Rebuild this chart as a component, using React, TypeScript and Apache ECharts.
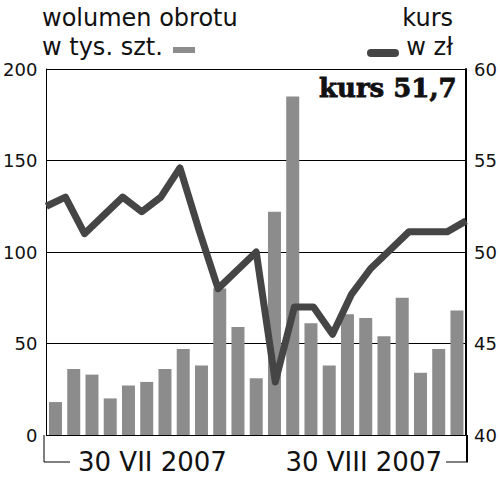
import React, { useEffect, useRef } from "react";
import * as echarts from "echarts";

const days = Array.from({ length: 23 }, (_, i) => String(i + 1));
const volume = [18, 36, 33, 20, 27, 29, 36, 47, 38, 80, 59, 31, 122, 185, 61, 38, 66, 64, 54, 75, 34, 47, 68];
const price = [52.5, 53.0, 51.0, 52.0, 53.0, 52.2, 53.0, 54.6, 51.2, 48.0, 49.0, 50.0, 42.9, 47.0, 47.0, 45.5, 47.7, 49.1, 50.1, 51.1, 51.1, 51.1, 51.7];
const rangeLabels = ["30 VII 2007", "30 VIII 2007"];
const leftTitle = ["wolumen obrotu", "w tys. szt."];
const rightTitle = ["kurs", "w zł"];
const lastPrice = "kurs 51,7";

const BAR = "#8c8c8c";
const LINE = "#454545";
const INK = "#111";

export default function App() {
  const ref = useRef<HTMLDivElement>(null);
  useEffect(() => {
    if (!ref.current) return;
    const chart = echarts.init(ref.current, null, { renderer: "svg" });
    const axisFont = { fontFamily: "DejaVu Sans", fontSize: 18, color: INK };
    const titleFont = { fontFamily: "DejaVu Sans", fontSize: 24, lineHeight: 24, fill: INK };
    chart.setOption({
      animation: false,
      backgroundColor: "#fff",
      grid: { left: 44, right: 33, top: 69, height: 366 },
      xAxis: [
        {
          type: "category",
          data: days,
          boundaryGap: true,
          axisLine: { show: true, lineStyle: { color: "#000", width: 1 } },
          axisTick: { show: false },
          axisLabel: { show: false },
        },
        {
          type: "category",
          data: days,
          boundaryGap: false,
          show: false,
        },
      ],
      yAxis: [
        {
          type: "value",
          min: 0,
          max: 200,
          interval: 50,
          position: "left",
          axisLine: { show: true, lineStyle: { color: "#000", width: 1 } },
          axisTick: { show: false },
          axisLabel: { ...axisFont, margin: 9 },
          splitLine: { show: true, lineStyle: { color: "#000", width: 1 } },
        },
        {
          type: "value",
          min: 40,
          max: 60,
          interval: 5,
          position: "right",
          axisLine: { show: true, lineStyle: { color: "#000", width: 2 } },
          axisTick: { show: false },
          axisLabel: { ...axisFont, margin: 8 },
          splitLine: { show: false },
        },
      ],
      series: [
        {
          type: "bar",
          data: volume,
          xAxisIndex: 0,
          yAxisIndex: 0,
          barWidth: 13,
          itemStyle: { color: BAR },
          z: 2,
        },
        {
          type: "line",
          data: price,
          xAxisIndex: 1,
          yAxisIndex: 1,
          symbol: "none",
          lineStyle: { color: LINE, width: 7, join: "round", cap: "butt" },
          z: 3,
        },
      ],
      graphic: [
        { type: "text", left: 42, top: 6, style: { text: leftTitle[0], ...titleFont } },
        { type: "text", left: 42, top: 35, style: { text: leftTitle[1], ...titleFont } },
        { type: "rect", shape: { x: 173, y: 47, width: 22, height: 6 }, style: { fill: BAR } },
        { type: "text", right: 47, top: 6, style: { text: rightTitle[0], ...titleFont, align: "right" } },
        { type: "text", right: 47, top: 35, style: { text: rightTitle[1], ...titleFont, align: "right" } },
        { type: "line", shape: { x1: 371, y1: 53, x2: 395, y2: 53 }, style: { stroke: LINE, lineWidth: 8, lineCap: "round" } },
        {
          type: "text",
          right: 43,
          top: 75,
          style: {
            text: lastPrice,
            fontFamily: "DejaVu Serif",
            fontWeight: "bold",
            fontSize: 26,
            fill: INK,
            stroke: INK,
            lineWidth: 0.8,
            align: "right",
          },
          z: 10,
        },
        { type: "line", shape: { x1: 44, y1: 435, x2: 44, y2: 462 }, style: { stroke: "#000", lineWidth: 1 } },
        { type: "line", shape: { x1: 44, y1: 462, x2: 70, y2: 462 }, style: { stroke: "#000", lineWidth: 1 } },
        { type: "line", shape: { x1: 467, y1: 435, x2: 467, y2: 462 }, style: { stroke: "#000", lineWidth: 2 } },
        { type: "line", shape: { x1: 446, y1: 462, x2: 468, y2: 462 }, style: { stroke: "#000", lineWidth: 1 } },
        {
          type: "text",
          left: 78,
          top: 449,
          style: { text: rangeLabels[0], fontFamily: "DejaVu Sans", fontSize: 26, fill: INK },
        },
        {
          type: "text",
          right: 58,
          top: 449,
          style: { text: rangeLabels[1], fontFamily: "DejaVu Sans", fontSize: 26, fill: INK },
        },
      ],
    });
    return () => chart.dispose();
  }, []);
  return (
    <div
      ref={ref}
      style={{ position: "absolute", left: 0, top: 0, width: 500, height: 479, background: "#fff" }}
    />
  );
}
